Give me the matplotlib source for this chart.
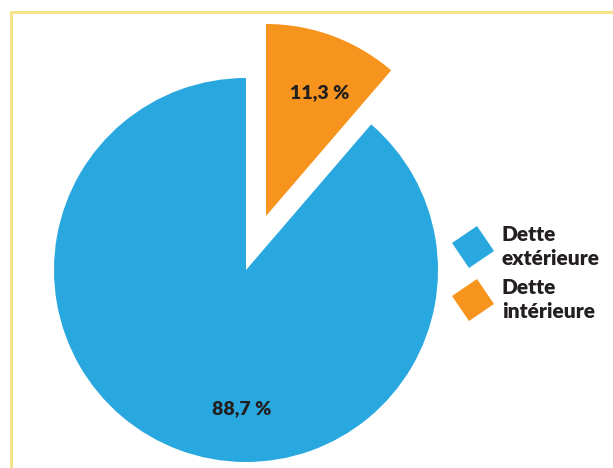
#!/usr/bin/env python3

import matplotlib
matplotlib.use("Agg")
import matplotlib.pyplot as plt
from matplotlib.lines import Line2D
from matplotlib.markers import MarkerStyle
from matplotlib.patches import Rectangle
from matplotlib.transforms import Affine2D


LABELS = ["Dette\nextérieure", "Dette\nintérieure"]
VALUES = [88.7, 11.3]
COLORS = ["#29A8E0", "#F7941D"]
EXPLODE = [0.0, 0.3]

TEXT_COLOR = "#231F20"
BORDER_COLOR = "#F7E28C"

FIG_W, FIG_H = 613, 468
DPI = 100


def fmt_pct(v):
    return f"{v:.1f}".replace(".", ",") + " %"


def main():
    plt.rcParams["font.family"] = ["Lato", "DejaVu Sans"]

    fig = plt.figure(figsize=(FIG_W / DPI, FIG_H / DPI), dpi=DPI)

    # pie centre at (246, 270) px from top-left, radius 192 px
    r_px = 192.0
    lim = 1.5
    size = 2 * lim * r_px
    cx, cy = 246.0, FIG_H - 270.0
    ax = fig.add_axes([(cx - size / 2) / FIG_W, (cy - size / 2) / FIG_H,
                       size / FIG_W, size / FIG_H])

    wedges, _ = ax.pie(VALUES, colors=COLORS, explode=EXPLODE, startangle=90,
                       counterclock=True, radius=1.0)
    ax.set_xlim(-lim, lim)
    ax.set_ylim(-lim, lim)
    ax.set_aspect("equal")
    ax.axis("off")

    # percentage labels
    label_pos = [(-0.022, -0.724), (0.383, 0.924)]
    for v, (x, y) in zip(VALUES, label_pos):
        ax.text(x, y, fmt_pct(v), ha="center", va="center", fontsize=14,
                fontweight="heavy", color=TEXT_COLOR)

    # legend with tilted squares
    handles = []
    for c in COLORS:
        m = MarkerStyle("s", transform=Affine2D().rotate_deg(33))
        handles.append(Line2D([], [], linestyle="none", marker=m,
                              markersize=22, markerfacecolor=c,
                              markeredgewidth=0))
    leg = fig.legend(handles, LABELS, loc="center left",
                     bbox_to_anchor=(457.0 / FIG_W, 1 - 273.0 / FIG_H),
                     frameon=False, borderpad=0, borderaxespad=0,
                     handlelength=1.5, handletextpad=0.65, labelspacing=0.45,
                     prop={"family": ["Lato", "DejaVu Sans"],
                           "weight": "heavy", "size": 15},
                     labelcolor=TEXT_COLOR)
    for t in leg.get_texts():
        t.set_linespacing(1.35)

    # yellow frame, only top and left edges visible
    lw_px = 3.0
    x0 = 10.5 / FIG_W
    y1 = 1 - 12.0 / FIG_H
    fig.add_artist(Rectangle((x0, -0.2), 1.5, y1 + 0.2,
                             transform=fig.transFigure, fill=False,
                             edgecolor=BORDER_COLOR,
                             linewidth=lw_px * 72 / DPI, clip_on=False))

    fig.savefig("out.png", dpi=DPI)
    plt.close(fig)


if __name__ == "__main__":
    main()
